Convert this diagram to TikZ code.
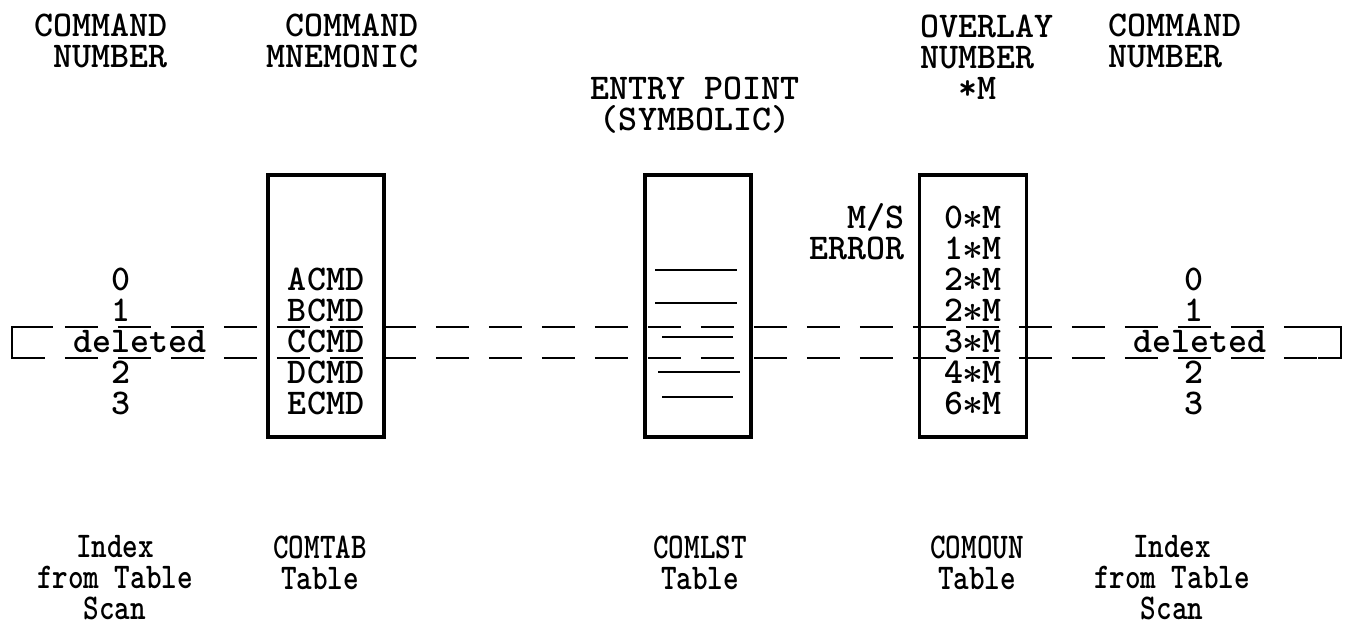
\documentclass[tikz,border=0pt]{standalone}
\usetikzlibrary{positioning}

\newcommand{\tstar}{\makebox[0.525em]{$\boldsymbol{\ast}$}}
\usepackage{amsmath}

\begin{document}
\begin{tikzpicture}[
  x=0.02cm, y=-0.02cm,
  font=\ttfamily\bfseries\fontsize{20.6pt}{17.6pt}\selectfont,
  tbl/.style={draw, line width=2pt, inner sep=0pt, minimum height=5.24cm},
  entry/.style={inner sep=0pt, text height=12.6pt, text depth=0pt},
  head/.style={inner sep=0pt},
  foot/.style={inner sep=0pt, align=center, xscale=0.82, transform shape},
  gone/.style={line width=1.6pt, dash pattern=on 0.66cm off 0.4cm},
  stub/.style={line width=1.6pt},
  bar/.style={line width=1.5pt}
]
  \useasboundingbox (0,0) rectangle (1353,640);

  % the three tables
  \node[tbl, minimum width=2.32cm] (comtab) at (326,306) {};
  \node[tbl, minimum width=2.12cm] (comlst) at (698,306) {};
  \node[tbl, minimum width=2.14cm] (comoun) at (973,306) {};

  % headings
  \node[head, anchor=east, align=right] (lhead) at (168,41) {COMMAND\\NUMBER};
  \node[head, anchor=east, align=right] (mhead) at (419,41) {COMMAND\\MNEMONIC};
  \node[head, align=center] (ehead) at (695,105) {ENTRY POINT\\(SYMBOLIC)};
  \node[head, anchor=west, align=left] (ohead) at (920,57) {OVERLAY\\NUMBER\\\phantom{NU}*M};
  \node[head, anchor=west, align=left] (rhead) at (1108,41) {COMMAND\\NUMBER};

  % contents
  \foreach \t [count=\i from 2] in {ACMD,BCMD,CCMD,DCMD,ECMD}
    \node[entry] (mn\i) at (326,{217+31*\i}) {\t};
  \foreach \d [count=\i from 0] in {0,1,2,2,3,4,6}
    \node[entry] (ov\i) at (973,{217+31*\i}) {\d\tstar M};
  \node[entry, anchor=east] (ms) at (905,217) {M/S};
  \node[entry, anchor=east] (err) at (905,248) {ERROR};

  \foreach \d/\i in {0/2,1/3,2/5,3/6} {
    \node[entry] (ln\i) at (121,{217+31*\i}) {\d};
    \node[entry] (rn\i) at (1194,{217+31*\i}) {\d};
  }
  \node[entry] (ldel) at (140,341) {deleted};
  \node[entry] (rdel) at (1200,341) {deleted};

  % symbolic entry points
  \foreach \y/\a/\b in {270/655/737, 303/655/737, 337/662/733, 372/658/740, 397/662/733}
    \draw[bar] (\a,\y) -- (\b,\y);

  % deleted row bracket
  \coordinate (lt) at (12,327);
  \coordinate (lb) at (12,358);
  \coordinate (rt) at (1341,327);
  \coordinate (rb) at (1341,358);
  \draw[gone] (lt) -- (rt);
  \draw[gone] (lb) -- (rb);
  \draw[stub] ([xshift=0.82cm]lt) -- (lt) -- (lb) -- ([xshift=0.5cm]lb);
  \draw[stub] ([xshift=-0.5cm]rt) -- (rt) -- (rb) -- ([xshift=-0.46cm]rb);

  % captions
  \node[foot] (lcap) at (115,578) {Index\\from Table\\Scan};
  \node[foot] (tcap) at (320,563) {COMTAB\\Table};
  \node[foot] (scap) at (700,563) {COMLST\\Table};
  \node[foot] (ocap) at (977,563) {COMOUN\\Table};
  \node[foot] (rcap) at (1172,578) {Index\\from Table\\Scan};
\end{tikzpicture}
\end{document}
